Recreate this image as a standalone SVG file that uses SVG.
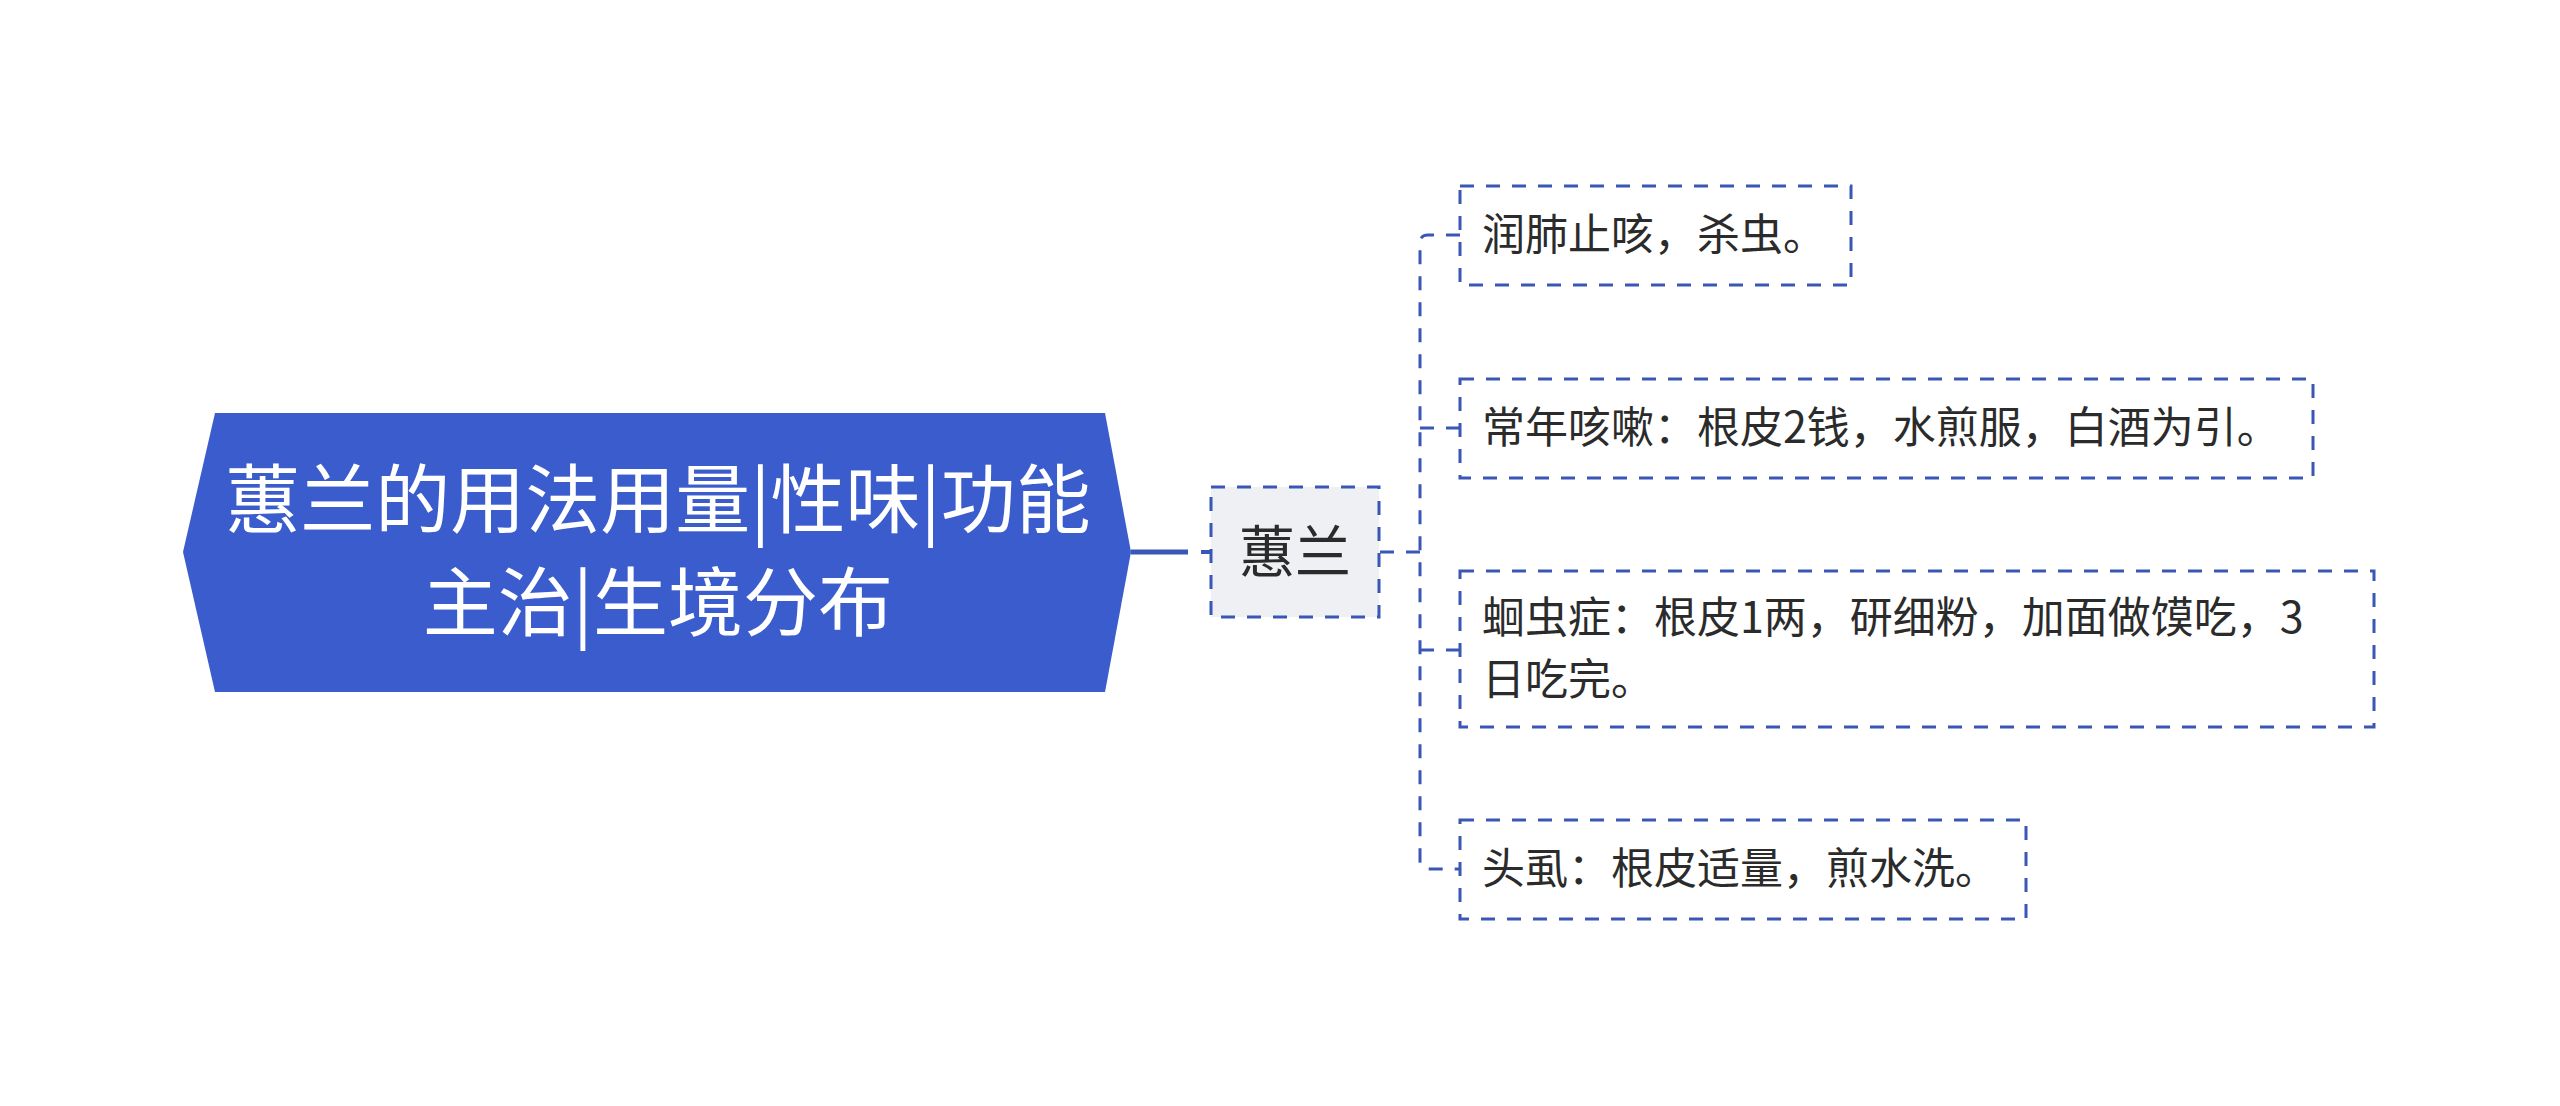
<svg xmlns="http://www.w3.org/2000/svg" width="2560" height="1106" viewBox="0 0 2560 1106">
<style>
text{font-family:"Noto Sans CJK SC","Noto Sans",sans-serif}
.root{fill:#ffffff;font-size:75px}
.sub{fill:#2b2b2b;font-size:56px}
.leaf{fill:#2b2b2b;font-size:43px}
.dbox{fill:#ffffff;stroke:#3a56b6;stroke-width:3;stroke-dasharray:14 12}
.dline{fill:none;stroke:#3a56b6;stroke-width:3;stroke-dasharray:14 12}
</style>
<rect width="2560" height="1106" fill="#ffffff"/>
<g id="connectors">
<path d="M1131 552 H1188" fill="none" stroke="#3a56b6" stroke-width="5"/>
<path d="M1201 552 H1211" fill="none" stroke="#3a56b6" stroke-width="4"/>
<path class="dline" d="M1380 552 H1420"/>
<path class="dline" d="M1460 235 H1428 Q1420 235 1420 243 V861 Q1420 869 1428 869 H1460"/>
<path class="dline" d="M1420 428 H1460"/>
<path class="dline" d="M1420 650 H1460"/>
</g>
<g id="node-root">
<polygon points="215,413 1105,413 1131,552 1105,692 215,692 183,552" fill="#3a5ccc"/>
<text class="root" text-anchor="middle"><tspan x="658" y="527">蕙兰的用法用量|性味|功能</tspan><tspan x="658" y="630">主治|生境分布</tspan></text>
</g>
<g id="node-huilan">
<rect class="dbox" x="1211" y="487" width="168" height="130" style="fill:#eef0f4"/>
<text class="sub" x="1295" y="572" text-anchor="middle">蕙兰</text>
</g>
<g id="node-1">
<rect class="dbox" x="1460" y="186" width="391" height="99"/>
<text class="leaf" x="1482" y="250">润肺止咳，杀虫。</text>
</g>
<g id="node-2">
<rect class="dbox" x="1460" y="379" width="853" height="99"/>
<text class="leaf" x="1482" y="443">常年咳嗽：根皮2钱，水煎服，白酒为引。</text>
</g>
<g id="node-3">
<rect class="dbox" x="1460" y="571" width="914" height="156"/>
<text class="leaf"><tspan x="1482" y="633">蛔虫症：根皮1两，研细粉，加面做馍吃，3</tspan><tspan x="1482" y="695">日吃完。</tspan></text>
</g>
<g id="node-4">
<rect class="dbox" x="1460" y="820" width="566" height="99"/>
<text class="leaf" x="1482" y="884">头虱：根皮适量，煎水洗。</text>
</g>
</svg>
